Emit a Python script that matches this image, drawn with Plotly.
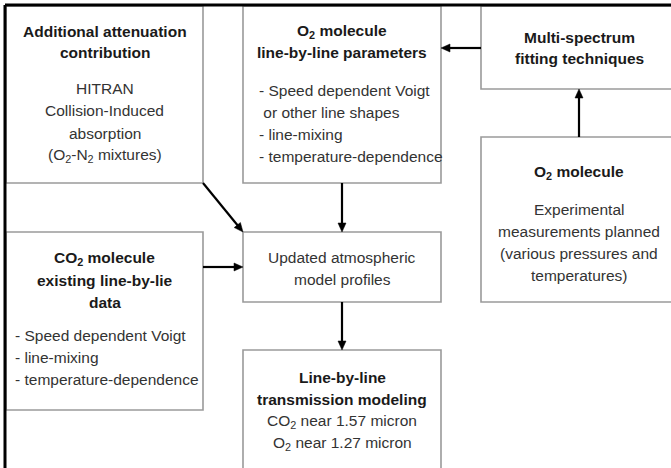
import math
import plotly.graph_objects as go

W, H = 671, 468

# ---- content (text of each box) ----
box_names = ["attenuation", "o2_params", "fitting", "o2_exp", "co2", "profiles", "lbl"]
titles = {
    "attenuation": ["Additional attenuation", "contribution"],
    "o2_params": ["O<sub>2</sub> molecule", "line-by-line parameters"],
    "fitting": ["Multi-spectrum", "fitting techniques"],
    "o2_exp": ["O<sub>2</sub> molecule"],
    "co2": ["CO<sub>2</sub> molecule", "existing line-by-lie", "data"],
    "profiles": [],
    "lbl": ["Line-by-line", "transmission modeling"],
}
bodies = {
    "attenuation": ["HITRAN", "Collision-Induced", "absorption", "(O<sub>2</sub>-N<sub>2</sub> mixtures)"],
    "o2_params": ["- Speed dependent Voigt", "\u00a0or other line shapes", "- line-mixing", "- temperature-dependence"],
    "fitting": [],
    "o2_exp": ["Experimental", "measurements planned", "(various pressures and", "temperatures)"],
    "co2": ["- Speed dependent Voigt", "- line-mixing", "- temperature-dependence"],
    "profiles": ["Updated atmospheric", "model profiles"],
    "lbl": ["CO<sub>2</sub> near 1.57 micron", "O<sub>2</sub> near 1.27 micron"],
}
links = [("fitting", "o2_params"), ("o2_exp", "fitting"), ("o2_params", "profiles"),
         ("attenuation", "profiles"), ("co2", "profiles"), ("profiles", "lbl")]

# ---- layout (pixel geometry) ----
boxes = {  # x0, y0, x1, y1
    "attenuation": (6, 6, 203, 183),
    "o2_params": (243, 6, 441, 183),
    "fitting": (481, 6, 680, 89),
    "o2_exp": (481, 137, 680, 302),
    "co2": (6, 232, 203, 410),
    "profiles": (243, 232, 441, 302),
    "lbl": (243, 350, 441, 490),
}
title_y = {
    "attenuation": [31, 52], "o2_params": [31, 52], "fitting": [37, 58],
    "o2_exp": [172], "co2": [258, 280, 302], "profiles": [], "lbl": [377, 399],
}
body_y = {
    "attenuation": [88, 110, 133, 155], "o2_params": [90, 112, 134, 156], "fitting": [],
    "o2_exp": [209, 231, 253, 275], "co2": [335, 357, 379], "profiles": [257, 279],
    "lbl": [421, 443],
}
body_left = {"o2_params": 257, "co2": 13}
title_cx = {"fitting": 579, "o2_exp": 579}
arrow_pts = [((481, 48), (441, 48)), ((579, 137), (579, 89)), ((342, 183), (342, 232)),
             ((203, 183), (243, 232)), ((203, 267), (243, 267)), ((342, 302), (342, 350))]

FONT = "Liberation Sans, Arial, sans-serif"
FS = 15.5
HEAD_LEN, HEAD_HALF = 9, 4

fig = go.Figure()
shapes = []
annotations = []

for name in box_names:
    x0, y0, x1, y1 = boxes[name]
    shapes.append(dict(type="rect", xref="x", yref="y", x0=x0, y0=y0, x1=x1, y1=y1,
                       line=dict(color="#9a9a9a", width=1.6), fillcolor="white", layer="below"))
    cx = title_cx.get(name, (x0 + x1) / 2)
    for txt, ty in zip(titles[name], title_y[name]):
        annotations.append(dict(x=cx, y=ty, xref="x", yref="y", text="<b>" + txt + "</b>",
                                showarrow=False, xanchor="center", yanchor="middle",
                                font=dict(family=FONT, size=FS, color="#1a1a1a")))
    for txt, by in zip(bodies[name], body_y[name]):
        anchor_left = name in body_left
        annotations.append(dict(x=body_left[name] if anchor_left else cx, y=by, xref="x", yref="y",
                                text=txt, showarrow=False,
                                xanchor="left" if anchor_left else "center", yanchor="middle",
                                font=dict(family=FONT, size=FS, color="#333333")))

# arrows: a line plus a filled triangular head
for (src, dst), ((sx, sy), (ex, ey)) in zip(links, arrow_pts):
    dx, dy = ex - sx, ey - sy
    L = math.hypot(dx, dy)
    ux, uy = dx / L, dy / L
    bx, by_ = ex - ux * HEAD_LEN, ey - uy * HEAD_LEN
    px, py = -uy, ux
    shapes.append(dict(type="line", xref="x", yref="y", x0=sx, y0=sy, x1=bx + ux * 1, y1=by_ + uy * 1,
                       line=dict(color="black", width=2.2)))
    path = (f"M {ex},{ey} L {bx + px * HEAD_HALF},{by_ + py * HEAD_HALF} "
            f"L {bx - px * HEAD_HALF},{by_ - py * HEAD_HALF} Z")
    shapes.append(dict(type="path", xref="x", yref="y", path=path,
                       fillcolor="black", line=dict(color="black", width=0.5)))

# outer frame (top and left edges visible)
shapes.append(dict(type="line", xref="x", yref="y", x0=5, y0=5, x1=W + 5, y1=5,
                   line=dict(color="black", width=3)))
shapes.append(dict(type="line", xref="x", yref="y", x0=5, y0=5, x1=5, y1=H + 5,
                   line=dict(color="black", width=3)))

fig.update_layout(
    width=W, height=H, margin=dict(l=0, r=0, t=0, b=0),
    paper_bgcolor="white", plot_bgcolor="white",
    xaxis=dict(range=[0, W], visible=False, fixedrange=True),
    yaxis=dict(range=[H, 0], visible=False, fixedrange=True),
    shapes=shapes, annotations=annotations, showlegend=False,
)
fig.write_html("out.html", config={"displayModeBar": False},
               post_script="document.body.style.margin='0';document.body.style.overflow='hidden';")
